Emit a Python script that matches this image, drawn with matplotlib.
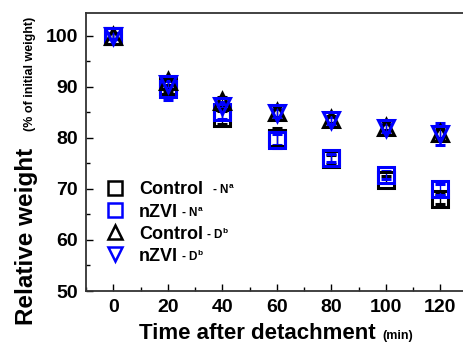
import matplotlib
matplotlib.use("Agg")
import matplotlib.pyplot as plt
from matplotlib.ticker import MultipleLocator

plt.rcParams['font.family'] = ['Liberation Sans', 'DejaVu Sans']

time_min = [0, 20, 40, 60, 80, 100, 120]
control_N = [100, 90.2, 84.0, 80.0, 75.8, 71.8, 68.0]
control_N_err = [0.5, 1.0, 1.2, 1.9, 0.9, 0.7, 1.0]
nzvi_N = [100, 89.6, 85.0, 79.7, 76.0, 72.8, 69.9]
nzvi_N_err = [0.5, 2.1, 1.2, 1.0, 0.8, 0.8, 1.0]
control_D = [100, 91.2, 87.2, 85.0, 83.7, 82.2, 80.9]
control_D_err = [0.5, 0.8, 0.8, 0.8, 0.7, 0.7, 0.9]
nzvi_D = [100, 90.6, 86.3, 84.8, 83.5, 82.0, 80.8]
nzvi_D_err = [0.5, 0.8, 0.8, 0.8, 0.7, 0.8, 2.1]

labels = ['Control', 'nZVI', 'Control', 'nZVI']
suffixes = [r'   - N$^\mathregular{a}$', r' - N$^\mathregular{a}$',
            r' - D$^\mathregular{b}$', r' - D$^\mathregular{b}$']

fig = plt.figure(figsize=(4.64, 3.44), dpi=100)
ax = fig.add_axes([86/464, 53/344, 378/464, 278/344])

series = [
    (control_N, control_N_err, 's', 'black'),
    (nzvi_N, nzvi_N_err, 's', '#0000ff'),
    (control_D, control_D_err, '^', 'black'),
    (nzvi_D, nzvi_D_err, 'v', '#0000ff'),
]
handles = []
for (vals, err, mk, col), lab in zip(series, labels):
    h = ax.errorbar(time_min, vals, yerr=err, fmt=mk, color=col, ecolor=col,
                    mfc='none', mec=col, ms=11.5, mew=2.2, capsize=3.5,
                    elinewidth=1.0, capthick=1.0, label=lab)
    handles.append(h[0])

ax.set_xlim(-10, 128.7)
ax.set_ylim(50, 104.5)
ax.xaxis.set_major_locator(MultipleLocator(20))
ax.xaxis.set_minor_locator(MultipleLocator(10))
ax.yaxis.set_major_locator(MultipleLocator(10))
ax.yaxis.set_minor_locator(MultipleLocator(5))
ax.tick_params(which='both', direction='in', width=1.0)
ax.tick_params(which='major', length=5, labelsize=14, pad=6)
ax.tick_params(which='minor', length=3)
ax.tick_params(axis='y', which='both', right=False)
ax.tick_params(axis='x', which='both', top=False)
for t in ax.get_xticklabels() + ax.get_yticklabels():
    t.set_fontweight('bold')
ax.spines['right'].set_visible(False)
for s in ['left', 'bottom', 'top']:
    ax.spines[s].set_linewidth(1.3)
    ax.spines[s].set_color('#333333')

leg = ax.legend(handles, labels, loc='upper left', bbox_to_anchor=(0.033, 0.42),
                frameon=False, handlelength=1.0, handletextpad=0.85,
                labelspacing=0.28, prop={'weight': 'bold', 'size': 13},
                borderaxespad=0, markerscale=0.87)
for lh in leg.legend_handles:
    lh.set_markeredgewidth(1.8)

fig.canvas.draw()
inv = fig.transFigure.inverted()
for txt, suf in zip(leg.get_texts(), suffixes):
    bb = txt.get_window_extent()
    x0, y0 = inv.transform((bb.x1, bb.y0 + 1.0))
    fig.text(x0, y0, suf, fontsize=8.5, fontweight='bold',
             ha='left', va='bottom')

fig.text(257/464, 5/344, 'Time after detachment', fontsize=16,
         fontweight='bold', ha='center', va='baseline')
fig.text(382/464, 5/344, '(min)', fontsize=9, fontweight='bold',
         ha='left', va='baseline')
fig.text(33/464, 1 - 236/344, 'Relative weight', fontsize=17.5, fontweight='bold',
         rotation=90, rotation_mode='anchor', ha='center', va='baseline')
fig.text(33/464, 1 - 74/344, '(% of initial weight)', fontsize=9,
         fontweight='bold', rotation=90, rotation_mode='anchor',
         ha='center', va='baseline')

fig.savefig('out.png', dpi=100)
